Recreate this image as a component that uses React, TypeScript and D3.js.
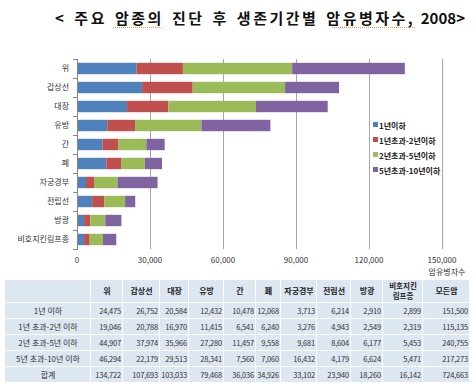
import React, { useRef, useEffect } from "react";
import * as d3 from "d3";

// 암종 (chart order, top to bottom)
const cancers = ["위", "갑상선", "대장", "유방", "간", "폐", "자궁경부", "전립선", "방광", "비호지킨림프종"];
const seriesNames = ["1년이하", "1년초과-2년이하", "2년초과-5년이하", "5년초과-10년이하"];
const upTo1y = [24475, 26752, 20584, 12432, 10478, 12068, 3713, 6214, 2910, 2899];
const from1to2y = [19046, 20788, 16970, 11415, 6541, 6240, 3276, 4943, 2549, 2319];
const from2to5y = [44907, 37974, 35966, 27280, 11457, 9558, 9681, 8604, 6177, 5453];
const from5to10y = [46294, 22179, 29513, 28341, 7560, 7060, 16432, 4179, 6624, 5471];
const allCancers = [151500, 115135, 240755, 217273];
const xTicks = [0, 30000, 60000, 90000, 120000, 150000];
const tableRowLabels = ["1년 이하", "1년 초과-2년 이하", "2년 초과-5년 이하", "5년 초과-10년 이하", "합계"];
const tableHeaders = ["위", "갑상선", "대장", "유방", "간", "폐", "자궁경부", "전립선", "방광", "비호지킨|림프종", "모든암"];

const colors = ["#4f81bd", "#c0504d", "#9bbb59", "#8064a2"];
const font = "'Noto Sans CJK KR', 'Noto Sans', sans-serif";
const titleMain = "< 주요 암종의 진단 후 생존기간별 암유병자수,";
const titleYear = " 2008>";

const Chart = () => {
  const node: any = useRef();

  useEffect(() => {
    const width = 476,
      height = 384;
    const svg = d3.select(node.current).attr("width", width).attr("height", height);
    svg.selectAll("*").remove();

    // title: letter spacing on the hangul part only, word gaps widened to fill the original width
    const titleText = svg
      .append("text")
      .attr("x", 55)
      .attr("y", 24)
      .attr("font-size", 15)
      .attr("font-weight", "bold")
      .attr("font-family", font)
      .attr("fill", "#111");
    titleText.append("tspan").attr("letter-spacing", 2.5).text(titleMain);
    titleText.append("tspan").text(titleYear);
    const natural = (titleText.node() as any).getComputedTextLength();
    const gaps = (titleMain + titleYear).split(" ").length - 1;
    if (natural < 410) titleText.attr("word-spacing", (410 - natural) / gaps);
    // spell-check style dotted underlines
    [[113, 163], [332, 415]].forEach(([a, b]) =>
      svg
        .append("line")
        .attr("x1", a)
        .attr("x2", b)
        .attr("y1", 27.5)
        .attr("y2", 27.5)
        .attr("stroke", "#f39c2b")
        .attr("stroke-width", 1)
        .attr("stroke-dasharray", "1,1")
    );

    const x = d3.scaleLinear().domain([0, 150000]).range([77, 442]);
    const y = d3.scaleBand().domain(cancers).range([59, 249]).paddingInner(0.4).paddingOuter(0.2);

    // grid
    svg
      .append("g")
      .selectAll("line")
      .data(xTicks.slice(1))
      .enter()
      .append("line")
      .attr("x1", d => Math.round(x(d)) + 0.5)
      .attr("x2", d => Math.round(x(d)) + 0.5)
      .attr("y1", 59)
      .attr("y2", 249)
      .attr("stroke", "#a6a6a6")
      .attr("stroke-width", 1);

    // stacked bars
    const rows = cancers.map((c, i) => ({
      name: c,
      s0: upTo1y[i],
      s1: from1to2y[i],
      s2: from2to5y[i],
      s3: from5to10y[i]
    }));
    const stack = d3.stack<any>().keys(["s0", "s1", "s2", "s3"]);
    const layers = stack(rows);
    svg
      .append("g")
      .selectAll("g")
      .data(layers)
      .enter()
      .append("g")
      .attr("fill", (_, i) => colors[i])
      .selectAll("rect")
      .data(d => d)
      .enter()
      .append("rect")
      .attr("x", d => x(d[0]))
      .attr("width", d => x(d[1]) - x(d[0]))
      .attr("y", d => y(d.data.name)!)
      .attr("height", y.bandwidth());

    // y axis
    const yAxis = svg.append("g");
    yAxis
      .append("line")
      .attr("x1", 77.5)
      .attr("x2", 77.5)
      .attr("y1", 59)
      .attr("y2", 250)
      .attr("stroke", "#868686");
    const step = y.step();
    d3.range(cancers.length + 1).forEach(i => {
      const yy = Math.round(59 + i * step) + 0.5;
      yAxis
        .append("line")
        .attr("x1", 73)
        .attr("x2", 77)
        .attr("y1", yy)
        .attr("y2", yy)
        .attr("stroke", "#868686");
    });
    yAxis
      .selectAll("text")
      .data(cancers)
      .enter()
      .append("text")
      .attr("x", 69)
      .attr("y", d => y(d)! + y.bandwidth() / 2)
      .attr("dy", "0.35em")
      .attr("text-anchor", "end")
      .attr("font-size", 8)
      .attr("font-family", font)
      .attr("fill", "#333")
      .text(d => d);

    // x tick labels
    svg
      .append("g")
      .selectAll("text")
      .data(xTicks)
      .enter()
      .append("text")
      .attr("x", d => x(d))
      .attr("y", 263)
      .attr("text-anchor", "middle")
      .attr("font-size", 8)
      .attr("font-family", font)
      .attr("fill", "#333")
      .text(d => d3.format(",")(d));
    svg
      .append("text")
      .attr("x", 447)
      .attr("y", 275)
      .attr("text-anchor", "middle")
      .attr("font-size", 8)
      .attr("font-family", font)
      .attr("fill", "#333")
      .text("암유병자수");

    // legend
    const legend = svg
      .append("g")
      .selectAll("g")
      .data(seriesNames)
      .enter()
      .append("g")
      .attr("transform", (_, i) => `translate(373,${126 + i * 15})`);
    legend
      .append("rect")
      .attr("x", 0)
      .attr("y", -4)
      .attr("width", 5)
      .attr("height", 5)
      .attr("fill", (_, i) => colors[i]);
    legend
      .append("text")
      .attr("x", 6)
      .attr("y", 0)
      .attr("dy", "0.35em")
      .attr("font-size", 8)
      .attr("font-weight", "bold")
      .attr("font-family", font)
      .attr("fill", "#222")
      .text(d => d);

    // table
    const colEdges = [5, 91, 123, 160, 189, 224, 256, 281, 317, 351, 383, 423, 470];
    const rowEdges = [280, 303, 319, 335, 351, 367, 383];
    const seriesTable = [upTo1y, from1to2y, from2to5y, from5to10y].map((s, i) => [...s, allCancers[i]]);
    const totals = cancers.map((_, j) => d3.sum(seriesTable, r => r[j]));
    totals.push(d3.sum(allCancers));
    const tableValues = [...seriesTable, totals];

    const table = svg.append("g").attr("font-family", font).attr("font-size", 8).attr("fill", "#333");
    for (let r = 0; r < rowEdges.length - 1; r++) {
      for (let c = 0; c < colEdges.length - 1; c++) {
        table
          .append("rect")
          .attr("x", colEdges[c])
          .attr("y", rowEdges[r])
          .attr("width", colEdges[c + 1] - colEdges[c] - 1)
          .attr("height", rowEdges[r + 1] - rowEdges[r] - 1)
          .attr("fill", "#dde7f2");
      }
    }
    tableHeaders.forEach((h, i) => {
      const cx = (colEdges[i + 1] + colEdges[i + 2]) / 2;
      const parts = h.split("|");
      parts.forEach((p, k) =>
        table
          .append("text")
          .attr("x", cx)
          .attr("y", parts.length === 1 ? 294 : 289 + k * 10)
          .attr("text-anchor", "middle")
          .attr("font-weight", "bold")
          .attr("font-size", parts.length === 1 ? 8 : 7.5)
          .attr("fill", "#222")
          .text(p)
      );
    });
    tableRowLabels.forEach((lab, r) => {
      const cy = (rowEdges[r + 1] + rowEdges[r + 2]) / 2;
      table
        .append("text")
        .attr("x", (colEdges[0] + colEdges[1]) / 2)
        .attr("y", cy)
        .attr("dy", "0.35em")
        .attr("text-anchor", "middle")
        .text(lab);
      tableValues[r].forEach((v, c) =>
        table
          .append("text")
          .attr("x", colEdges[c + 2] - 2)
          .attr("y", cy)
          .attr("dy", "0.35em")
          .attr("text-anchor", "end")
          .attr("font-size", 7.5)
          .attr("letter-spacing", -0.2)
          .text(d3.format(",")(v))
      );
    });
  }, []);

  return <svg ref={node} style={{ position: "absolute", left: 0, top: 0 }}></svg>;
};

export default function App() {
  return <Chart />;
}
